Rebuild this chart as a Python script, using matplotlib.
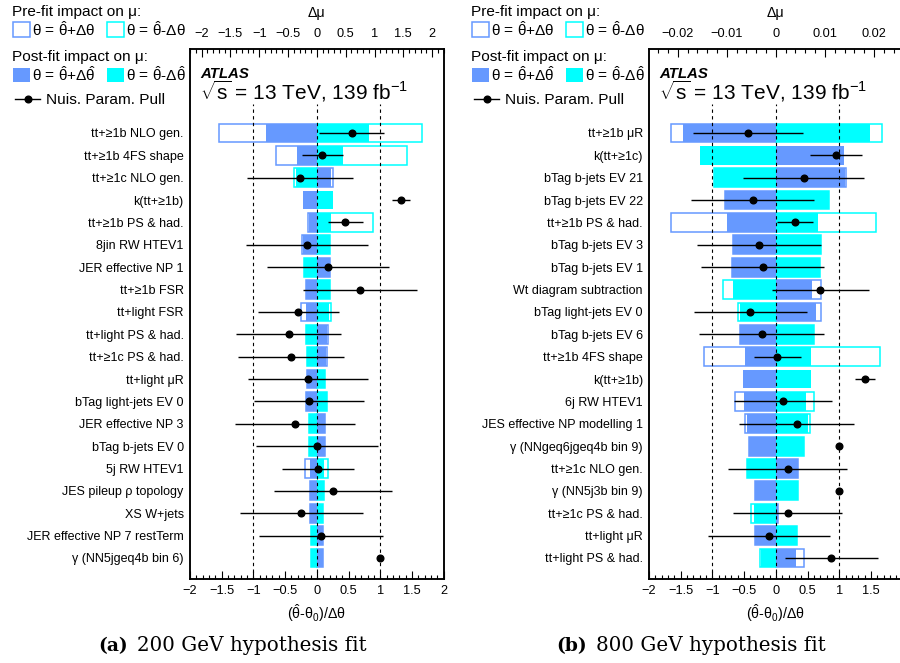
import numpy as np
import matplotlib
matplotlib.use("Agg")
import matplotlib.pyplot as plt
from matplotlib.patches import Rectangle
from matplotlib.lines import Line2D
from matplotlib.ticker import MultipleLocator, FuncFormatter

plt.rcParams['font.family'] = ['Liberation Sans', 'DejaVu Sans']
plt.rcParams['mathtext.fontset'] = 'custom'
plt.rcParams['mathtext.rm'] = 'Liberation Sans'
plt.rcParams['mathtext.it'] = 'Liberation Sans:italic'
plt.rcParams['mathtext.bf'] = 'Liberation Sans:bold'
plt.rcParams['mathtext.default'] = 'regular'
plt.rcParams['axes.unicode_minus'] = True

# ---------------- (a) 200 GeV hypothesis fit ----------------
labels_a = ["tt+≥1b NLO gen.", "tt+≥1b 4FS shape", "tt+≥1c NLO gen.", "k(tt+≥1b)",
            "tt+≥1b PS & had.", "8jin RW HTEV1", "JER effective NP 1", "tt+≥1b FSR",
            "tt+light FSR", "tt+light PS & had.", "tt+≥1c PS & had.", "tt+light μR",
            "bTag light-jets EV 0", "JER effective NP 3", "bTag b-jets EV 0", "5j RW HTEV1",
            "JES pileup ρ topology", "XS W+jets", "JER effective NP 7 restTerm",
            "γ (NN5jgeq4b bin 6)"]
postfit_up_a = [-0.88, -0.35, 0.25, -0.24, -0.14, -0.24, 0.235, -0.18, -0.18, 0.177,
                0.165, -0.165, -0.18, 0.148, 0.148, -0.113, -0.125, -0.113, 0.107, 0.10]
postfit_dn_a = [0.91, 0.45, -0.37, 0.28, 0.25, 0.23, -0.22, 0.235, 0.217, -0.195,
                -0.17, 0.148, 0.177, -0.13, -0.136, 0.118, 0.12, 0.107, -0.107, -0.10]
prefit_up_a = [-1.70, -0.71, 0.28, np.nan, -0.155, -0.25, 0.235, -0.18, -0.275, 0.195,
               0.183, -0.165, -0.18, 0.148, 0.148, -0.20, -0.125, -0.113, 0.107, 0.10]
prefit_dn_a = [1.82, 1.56, -0.40, np.nan, 0.97, 0.23, -0.22, 0.235, 0.247, -0.195,
               -0.17, 0.148, 0.177, -0.13, -0.136, 0.195, 0.12, 0.107, -0.107, -0.10]
pull_a = [0.55, 0.087, -0.26, 1.325, 0.445, -0.15, 0.177, 0.677, -0.29, -0.445,
          -0.41, -0.145, -0.124, -0.34, 0.0, 0.02, 0.26, -0.245, 0.066, 1.0]
pull_err_a = [0.51, 0.325, 0.835, 0.14, 0.275, 0.96, 0.967, 0.90, 0.64, 0.83,
              0.84, 0.946, 0.864, 0.946, 0.957, 0.567, 0.93, 0.965, 0.98, 0.0]

# ---------------- (b) 800 GeV hypothesis fit ----------------
labels_b = ["tt+≥1b μR", "k(tt+≥1c)", "bTag b-jets EV 21", "bTag b-jets EV 22",
            "tt+≥1b PS & had.", "bTag b-jets EV 3", "bTag b-jets EV 1",
            "Wt diagram subtraction", "bTag light-jets EV 0", "bTag b-jets EV 6",
            "tt+≥1b 4FS shape", "k(tt+≥1b)", "6j RW HTEV1", "JES effective NP modelling 1",
            "γ (NNgeq6jgeq4b bin 9)", "tt+≥1c NLO gen.", "γ (NN5j3b bin 9)",
            "tt+≥1c PS & had.", "tt+light μR", "tt+light PS & had."]
postfit_up_b = [-0.0190, 0.0139, 0.0141, -0.0103, -0.0099, -0.0087, -0.0090, 0.0074,
                0.0082, -0.0074, -0.0063, -0.0067, -0.0065, -0.0059, -0.0055, 0.0045,
                -0.0042, 0.0004, -0.0042, 0.0042]
postfit_dn_b = [0.0191, -0.0154, -0.0127, 0.0108, 0.0086, 0.0092, 0.0089, -0.0087,
                -0.0074, 0.0078, 0.0072, 0.0072, 0.0062, 0.0065, 0.0057, -0.0058,
                0.0045, -0.0044, 0.0044, -0.0030]
prefit_up_b = [-0.0214, np.nan, 0.0142, -0.0103, -0.0214, -0.0087, -0.0090, 0.0092,
               0.0091, -0.0074, -0.0146, np.nan, -0.0084, -0.0063, -0.0055, 0.0045,
               -0.0042, 0.0004, -0.0042, 0.0058]
prefit_dn_b = [0.0216, np.nan, -0.0127, 0.0108, 0.0205, 0.0092, 0.0089, -0.0107,
               -0.0078, 0.0078, 0.0213, np.nan, 0.0078, 0.0069, 0.0057, -0.0058,
               0.0045, -0.0051, 0.0044, -0.0033]
pull_b = [-0.442, 0.947, 0.437, -0.363, 0.30, -0.263, -0.21, 0.70, -0.405, -0.226,
          0.026, 1.41, 0.116, 0.33, 1.0, 0.184, 1.0, 0.19, -0.105, 0.874]
pull_err_b = [0.87, 0.41, 0.96, 0.97, 0.285, 0.98, 0.975, 0.763, 0.89, 0.985,
              0.365, 0.16, 0.77, 0.905, 0.0, 0.937, 0.0, 0.86, 0.96, 0.735]

BLUE = '#6699ff'
CYAN = '#00ffff'

W, H = 900, 663
fig = plt.figure(figsize=(W / 100, H / 100), dpi=100)


def fx(x):
    return x / W


def fy(y):
    return 1 - y / H


def num_fmt(v, pos):
    s = '%g' % round(v, 6)
    if s == '-0':
        s = '0'
    return s.replace('-', '\u2212')


def legend_block(x0):
    """Legend for pre-/post-fit impacts and pulls, left of each panel."""
    fs = 11.1
    fig.text(fx(x0 - 0.7), fy(16), 'Pre-fit impact on μ:', fontsize=fs, va='baseline')
    pre_txt = 'θ = $\\hat{θ}$+Δθ'
    pre_txt2 = 'θ = $\\hat{θ}$-Δθ'
    post_txt = 'θ = $\\hat{θ}$+Δ$\\hat{θ}$'
    post_txt2 = 'θ = $\\hat{θ}$-Δ$\\hat{θ}$'
    for bx, col, txt in ((x0, BLUE, pre_txt), (x0 + 93.5, CYAN, pre_txt2)):
        fig.patches.append(Rectangle((fx(bx), fy(37)), 17 / W, 15 / H,
                                     transform=fig.transFigure, facecolor='white',
                                     edgecolor=col, linewidth=1.1))
        fig.text(fx(bx + 19.3), fy(35.5), txt, fontsize=fs, va='baseline')
    fig.text(fx(x0 - 0.7), fy(60.7), 'Post-fit impact on μ:', fontsize=fs, va='baseline')
    for bx, col, txt in ((x0, BLUE, post_txt), (x0 + 93.5, CYAN, post_txt2)):
        fig.patches.append(Rectangle((fx(bx), fy(82)), 17 / W, 14 / H,
                                     transform=fig.transFigure, facecolor=col,
                                     edgecolor='none'))
        fig.text(fx(bx + 19.3), fy(81), txt, fontsize=fs, va='baseline')
    fig.lines.append(Line2D([fx(x0 + 2), fx(x0 + 27)], [fy(99), fy(99)],
                            transform=fig.transFigure, color='k', lw=1.0))
    fig.lines.append(Line2D([fx(x0 + 15)], [fy(99)], transform=fig.transFigure,
                            color='k', marker='o', ms=4.8, lw=0))
    fig.text(fx(x0 + 33), fy(104.3), 'Nuis. Param. Pull', fontsize=fs, va='baseline')


def draw_panel(left_px, labels, post_up, post_dn, pre_up, pre_dn, pull, pull_err,
               mu_lim, mu_major, mu_minor, caption_tag, caption_txt):
    n = len(labels)
    ypos = np.arange(n)
    ax = fig.add_axes([fx(left_px), fy(579), 253.7 / W, 530 / H])
    ax.set_xlim(-mu_lim, mu_lim)
    ax.set_ylim(n - 0.06, -3.755)
    h = 0.84

    # pre-fit impacts: open boxes
    for vals, col in ((pre_up, BLUE), (pre_dn, CYAN)):
        v = np.asarray(vals, float)
        m = ~np.isnan(v)
        ax.barh(ypos[m], v[m], height=h, left=0, facecolor='white', edgecolor=col,
                linewidth=1.1, zorder=2)
    # post-fit impacts: filled boxes
    for vals, col in ((post_up, BLUE), (post_dn, CYAN)):
        ax.barh(ypos, vals, height=h, left=0, color=col, linewidth=0, zorder=3)

    ax.set_yticks(ypos)
    ax.set_yticklabels(labels, fontsize=9)
    ax.tick_params(axis='y', length=0, pad=4.5)

    # pull axis on the bottom
    axp = ax.twiny()
    axp.set_xlim(-2, 2)
    for v in (-1, 0, 1):
        axp.axvline(v, ymin=0, ymax=0.897, color='k', lw=0.8,
                    linestyle=(0, (3, 3)), zorder=4)
    axp.errorbar(pull, ypos, xerr=pull_err, fmt='o', color='k', ms=4.8,
                 elinewidth=1.0, capsize=0, zorder=5)

    # tick layout: Δμ on top, pull on bottom
    ax.xaxis.tick_top()
    ax.xaxis.set_label_position('top')
    axp.xaxis.tick_bottom()
    axp.xaxis.set_label_position('bottom')
    ax.xaxis.set_major_locator(MultipleLocator(mu_major))
    ax.xaxis.set_minor_locator(MultipleLocator(mu_minor))
    ax.xaxis.set_major_formatter(FuncFormatter(num_fmt))
    axp.xaxis.set_major_locator(MultipleLocator(0.5))
    axp.xaxis.set_minor_locator(MultipleLocator(0.1))
    axp.xaxis.set_major_formatter(FuncFormatter(num_fmt))
    ax.tick_params(axis='x', which='both', direction='in', top=True, bottom=False,
                   labeltop=True, labelbottom=False, labelsize=9.2, pad=6.2, width=0.8)
    ax.tick_params(axis='x', which='major', length=5.5)
    ax.tick_params(axis='x', which='minor', length=2.8)
    axp.tick_params(axis='x', which='both', direction='in', top=False, bottom=True,
                    labeltop=False, labelbottom=True, labelsize=9.2, pad=4.6, width=0.8)
    axp.tick_params(axis='x', which='major', length=6.0)
    axp.tick_params(axis='x', which='minor', length=3.2)
    for a in (ax, axp):
        for s in a.spines.values():
            s.set_linewidth(1.1)
            s.set_color('k')

    cx = left_px + 126.75
    fig.text(fx(cx), fy(17.5), 'Δμ', fontsize=10.3, ha='center', va='baseline')
    fig.text(fx(cx), fy(619), '($\\hat{θ}$-θ$_{0}$)/Δθ', fontsize=10.3,
             ha='center', va='baseline')

    # experiment label
    fig.text(fx(left_px + 10), fy(77.5), 'ATLAS', fontsize=10.8, fontweight='bold',
             fontstyle='italic', va='baseline')
    fig.text(fx(left_px + 10), fy(100), '$\\sqrt{s}$ = 13 TeV, 139 fb$^{-1}$',
             fontsize=15, va='baseline')

    legend_block(left_px - 177)

    # sub-figure caption
    tag_right = left_px - 62
    fig.text(fx(tag_right), fy(651), caption_tag, family='DejaVu Serif',
             fontweight='bold', fontsize=13.5, ha='right', va='baseline')
    fig.text(fx(tag_right + 9), fy(651), caption_txt, family='DejaVu Serif',
             fontsize=14.3, ha='left', va='baseline')
    return ax, axp


draw_panel(190, labels_a, postfit_up_a, postfit_dn_a, prefit_up_a, prefit_dn_a,
           pull_a, pull_err_a, 2.2, 0.5, 0.1, '(a)', '200 GeV hypothesis fit')
draw_panel(649, labels_b, postfit_up_b, postfit_dn_b, prefit_up_b, prefit_dn_b,
           pull_b, pull_err_b, 0.02585, 0.01, 0.002, '(b)', '800 GeV hypothesis fit')

fig.savefig('out.png', dpi=100)
